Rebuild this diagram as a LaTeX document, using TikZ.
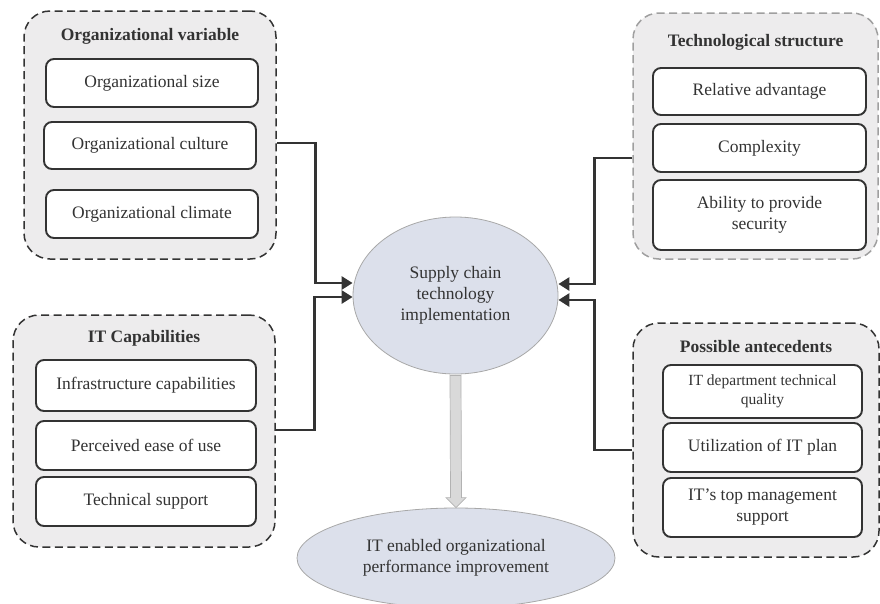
\documentclass[tikz,border=0pt]{standalone}
\usepackage{fontspec}
\setmainfont{Liberation Serif}
\usetikzlibrary{arrows.meta,shapes.geometric}
\definecolor{txt}{HTML}{333333}
\definecolor{outerfill}{HTML}{EDECED}
\definecolor{ellfill}{HTML}{DCE0EB}
\definecolor{ellline}{HTML}{A8A8A8}
\begin{document}
\begin{tikzpicture}[x=1pt,y=-1pt,
  font=\fontsize{17.5}{21}\selectfont, text=txt,
  outerbox/.style={draw=txt, dash pattern=on 8pt off 4.5pt, line width=1.5pt, fill=outerfill, rounded corners=26pt, inner sep=0pt},
  lightouter/.style={outerbox, draw=gray!75},
  grouptitle/.style={font=\fontsize{17.5}{21}\selectfont\bfseries, inner sep=0pt},
  innerbox/.style={draw=txt, line width=1.9pt, fill=white, rounded corners=8pt, align=center, inner sep=0pt},
  ell/.style={ellipse, draw=ellline, line width=0.8pt, fill=ellfill, align=center, inner sep=0pt},
  conn/.style={draw=txt, line width=2.8pt, -{Triangle[length=11pt,width=13pt]}}
]
\useasboundingbox (0,0) rectangle (880,603);

% Organizational variable
\node[outerbox, minimum width=252pt, minimum height=248pt] (ov) at (150,135) {};
\node[grouptitle] (ovt) at (150,36) {Organizational variable};
\node[innerbox, minimum width=212pt, minimum height=48pt] (ova) at (152,83) {Organizational size};
\node[innerbox, minimum width=212pt, minimum height=47pt] (ovb) at (150,145.5) {Organizational culture};
\node[innerbox, minimum width=212pt, minimum height=48pt] (ovc) at (152,214) {Organizational climate};

% Technological structure
\node[lightouter, minimum width=245pt, minimum height=246pt] (ts) at (755.5,136) {};
\node[grouptitle] (tst) at (755.5,42) {Technological structure};
\node[innerbox, minimum width=213pt, minimum height=47pt] (tsa) at (759.5,91.5) {Relative advantage};
\node[innerbox, minimum width=213pt, minimum height=48pt] (tsb) at (759.5,148) {Complexity};
\node[innerbox, minimum width=213pt, minimum height=70pt] (tsc) at (759.5,215) {Ability to provide\\security};

% IT Capabilities
\node[outerbox, minimum width=262pt, minimum height=232pt] (itc) at (144,431) {};
\node[grouptitle] (itct) at (144,338) {IT Capabilities};
\node[innerbox, minimum width=220pt, minimum height=51pt] (itca) at (146,385.5) {Infrastructure capabilities};
\node[innerbox, minimum width=220pt, minimum height=49pt] (itcb) at (146,445.5) {Perceived ease of use};
\node[innerbox, minimum width=220pt, minimum height=49pt] (itcc) at (146,501.5) {Technical support};

% Possible antecedents
\node[outerbox, minimum width=246pt, minimum height=234pt] (pa) at (756,440) {};
\node[grouptitle] (pat) at (756,347) {Possible antecedents};
\node[innerbox, minimum width=199pt, minimum height=53pt, font=\fontsize{15.5}{19}\selectfont] (paa) at (762.5,391.5) {IT department technical\\quality};
\node[innerbox, minimum width=199pt, minimum height=49pt] (pab) at (762.5,447.5) {Utilization of IT plan};
\node[innerbox, minimum width=199pt, minimum height=59pt] (pac) at (762.5,507.5) {IT’s top management\\support};

% Ellipses
\node[ell, minimum width=205pt, minimum height=157pt] (sc) at (455.5,295.5) {Supply chain\\technology\\implementation};
\node[ell, minimum width=318pt, minimum height=100pt] (ie) at (456,558) {IT enabled organizational\\performance improvement};

% Connectors
\draw[conn] ([yshift=-8pt]ov.east) -- ++(39,0) |- ([yshift=12.5pt]sc.west);
\draw[conn] ([yshift=1pt]itc.east) -- ++(39,0) |- ([yshift=-1.5pt]sc.west);
\draw[conn] ([yshift=-22pt]ts.west) -- ++(-38,0) |- ([yshift=11.5pt]sc.east);
\draw[conn] ([yshift=-10pt]pa.west) -- ++(-38,0) |- ([yshift=-4.5pt]sc.east);

% Gray arrow
\filldraw[fill=gray!30, draw=gray!60, line width=0.7pt]
  ([xshift=-5.5pt,yshift=-1pt]sc.south) -- ([xshift=-5.5pt,yshift=10pt]ie.north)
  -- ([xshift=-10pt,yshift=10pt]ie.north) -- (ie.north)
  -- ([xshift=10pt,yshift=10pt]ie.north) -- ([xshift=5.5pt,yshift=10pt]ie.north)
  -- ([xshift=5.5pt,yshift=-1pt]sc.south) -- cycle;
\end{tikzpicture}
\end{document}
